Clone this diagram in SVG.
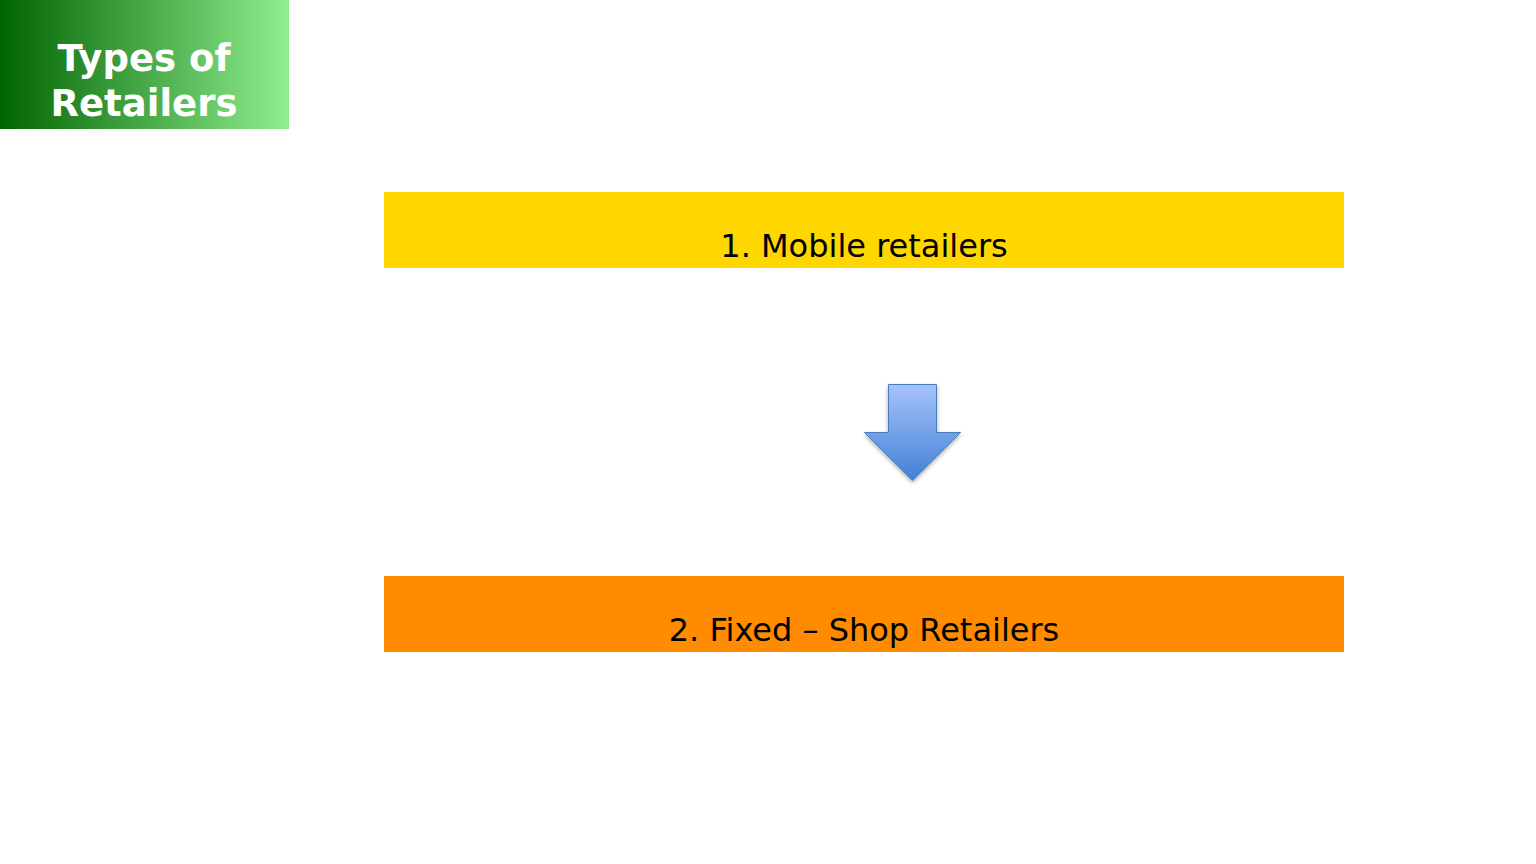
<svg xmlns="http://www.w3.org/2000/svg" width="1536" height="864" viewBox="0 0 1536 864">
<defs>
<linearGradient id="tg" x1="0" y1="0" x2="1" y2="0"><stop offset="0" stop-color="#006400"/><stop offset="1" stop-color="#90EE90"/></linearGradient>
<linearGradient id="ag" x1="0" y1="0" x2="0" y2="1"><stop offset="0" stop-color="#a6c3fb"/><stop offset="1" stop-color="#4380d6"/></linearGradient>
<filter id="sh" x="-20%" y="-20%" width="140%" height="140%"><feGaussianBlur in="SourceAlpha" stdDeviation="2"/><feOffset dx="0" dy="2"/><feComponentTransfer><feFuncA type="linear" slope="0.35"/></feComponentTransfer><feMerge><feMergeNode/><feMergeNode in="SourceGraphic"/></feMerge></filter>
</defs>
<style>
.t{font-family:"DejaVu Sans",sans-serif;font-size:32px;fill:#000;text-anchor:middle}
.h{font-family:"DejaVu Sans",sans-serif;font-size:37px;font-weight:bold;fill:#fff;text-anchor:middle}
</style>
<rect width="1536" height="864" fill="#fff"/>
<g id="title">
<rect x="0" y="0" width="289" height="129" fill="url(#tg)"/>
<text class="h" x="144" y="71">Types of</text>
<text class="h" x="144" y="116">Retailers</text>
</g>
<g id="mobile">
<rect x="384" y="192" width="960" height="76" fill="#FFD700"/>
<text class="t" x="864" y="257">1. Mobile retailers</text>
</g>
<g id="connectors">
<path d="M888.5 384.5 H936.5 V432.5 H960.5 L912.5 480.5 L864.5 432.5 H888.5 Z" fill="url(#ag)" stroke="#4a7ebb" stroke-width="1" filter="url(#sh)"/>
</g>
<g id="fixed">
<rect x="384" y="576" width="960" height="76" fill="#FF8C00"/>
<text class="t" x="864" y="641">2. Fixed – Shop Retailers</text>
</g>
</svg>
